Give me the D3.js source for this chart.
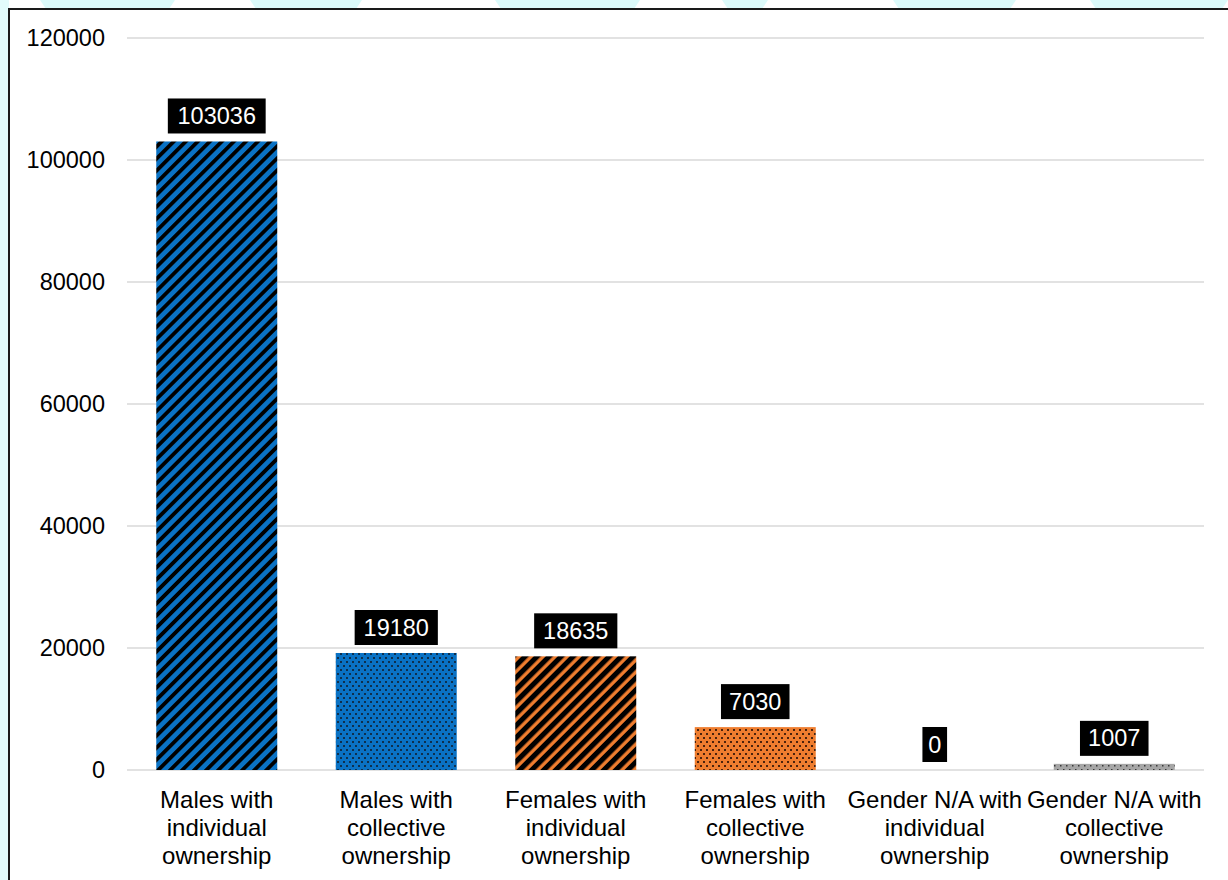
<!DOCTYPE html>
<html>
<head>
<meta charset="utf-8">
<script src="https://cdn.jsdelivr.net/npm/d3@7"></script>
<style>
  html, body { margin: 0; padding: 0; background: #fff; }
  svg { display: block; font-family: Arial, "Liberation Sans", sans-serif; }
</style>
</head>
<body>
<svg id="chart" width="1228" height="880"></svg>
<script>
// Land parcels by owner gender and ownership type
const categories = [
  ["Males with", "individual", "ownership"],
  ["Males with", "collective", "ownership"],
  ["Females with", "individual", "ownership"],
  ["Females with", "collective", "ownership"],
  ["Gender N/A with", "individual", "ownership"],
  ["Gender N/A with", "collective", "ownership"]
];
const values = [103036, 19180, 18635, 7030, 0, 1007];
const fills = ["stripeBlue", "dotBlue", "stripeOrange", "dotOrange", "dotGray", "dotGray"];
const yTicks = [0, 20000, 40000, 60000, 80000, 100000, 120000];

const svg = d3.select("#chart");
const W = 1228, H = 880;
const FS = 23.5;

// Page backdrop: pale cyan bands peeking around the framed chart
const backdrop = svg.append("g");
backdrop.append("rect").attr("width", W).attr("height", H).attr("fill", "#ffffff");
const topBands = [[40, 175], [250, 362], [495, 640], [722, 768], [893, 1016], [1090, 1228]];
topBands.forEach(([a, b]) => {
  backdrop.append("polygon")
    .attr("points", `${a},0 ${b},0 ${b - 6},9 ${a + 6},9`)
    .attr("fill", "#dcfafa");
});
backdrop.append("rect").attr("x", 0).attr("y", 0).attr("width", 9).attr("height", H).attr("fill", "#e2fbfb");

// Chart frame
svg.append("rect")
  .attr("x", 9).attr("y", 9).attr("width", W + 20).attr("height", H + 20)
  .attr("fill", "#ffffff").attr("stroke", "#1a1a1a").attr("stroke-width", 2);

// Fill patterns
const defs = svg.append("defs");
function stripe(id, base, blackW) {
  const s = 8.5;
  const p = defs.append("pattern").attr("id", id)
    .attr("patternUnits", "userSpaceOnUse")
    .attr("width", s).attr("height", s)
    .attr("patternTransform", "rotate(45)");
  p.append("rect").attr("width", s).attr("height", s).attr("fill", base);
  p.append("rect").attr("width", blackW).attr("height", s).attr("fill", "#000");
}
function dots(id, base, dotColor, size) {
  const p = defs.append("pattern").attr("id", id)
    .attr("patternUnits", "userSpaceOnUse")
    .attr("width", 6).attr("height", 8);
  p.append("rect").attr("width", 6).attr("height", 8).attr("fill", base);
  p.append("rect").attr("x", 1).attr("y", 1).attr("width", size).attr("height", size).attr("fill", dotColor);
  p.append("rect").attr("x", 4).attr("y", 5).attr("width", size).attr("height", size).attr("fill", dotColor);
}
stripe("stripeBlue", "#0a72c4", 3.8);
stripe("stripeOrange", "#ee7d2f", 5.1);
dots("dotBlue", "#0a72c4", "#0e2f4d", 2);
dots("dotOrange", "#ee7d2f", "#4a220c", 2);
dots("dotGray", "#a6a6a6", "#3a3a3a", 1.5);

// Scales
const x = d3.scaleBand().domain(d3.range(categories.length)).range([127, 1204]).paddingInner(0.326).paddingOuter(0.163);
const y = d3.scaleLinear().domain([0, 120000]).range([770, 38]);

// Gridlines
svg.append("g").selectAll("line").data(yTicks).join("line")
  .attr("x1", 127).attr("x2", 1204)
  .attr("y1", d => y(d)).attr("y2", d => y(d))
  .attr("stroke", "#d9d9d9").attr("stroke-width", 1.5);

// Y axis labels
const yAxis = svg.append("g").attr("transform", "translate(105,0)")
  .call(d3.axisLeft(y).tickValues(yTicks).tickSize(0).tickPadding(0).tickFormat(d3.format("d")));
yAxis.select(".domain").remove();
yAxis.selectAll("text").attr("font-size", FS).attr("fill", "#000").attr("font-family", "Arial, 'Liberation Sans', sans-serif");

// Bars
svg.append("g").selectAll("rect").data(values).join("rect")
  .attr("x", (d, i) => x(i)).attr("width", x.bandwidth())
  .attr("y", d => y(d)).attr("height", d => y(0) - y(d))
  .attr("fill", (d, i) => `url(#${fills[i]})`);

// Value labels in black boxes
const lab = svg.append("g").selectAll("g").data(values).join("g");
lab.each(function (d, i) {
  const g = d3.select(this);
  const cx = x(i) + x.bandwidth() / 2;
  const bottom = y(d) - 8;
  const t = g.append("text").text(d)
    .attr("x", cx).attr("y", bottom - 9.5)
    .attr("text-anchor", "middle").attr("font-size", FS).attr("fill", "#fff");
  const tw = t.node().getComputedTextLength();
  const bw = tw * 1.12 + 10;
  g.insert("rect", "text")
    .attr("x", cx - bw / 2).attr("y", bottom - 35)
    .attr("width", bw).attr("height", 35).attr("fill", "#000");
});

// Category labels
const xl = svg.append("g").selectAll("text").data(categories).join("text")
  .attr("text-anchor", "middle").attr("font-size", 24).attr("fill", "#000");
xl.each(function (lines, i) {
  const cx = x(i) + x.bandwidth() / 2;
  d3.select(this).selectAll("tspan").data(lines).join("tspan")
    .attr("x", cx).attr("y", (l, k) => 808 + k * 28).text(l => l);
});
</script>
</body>
</html>
